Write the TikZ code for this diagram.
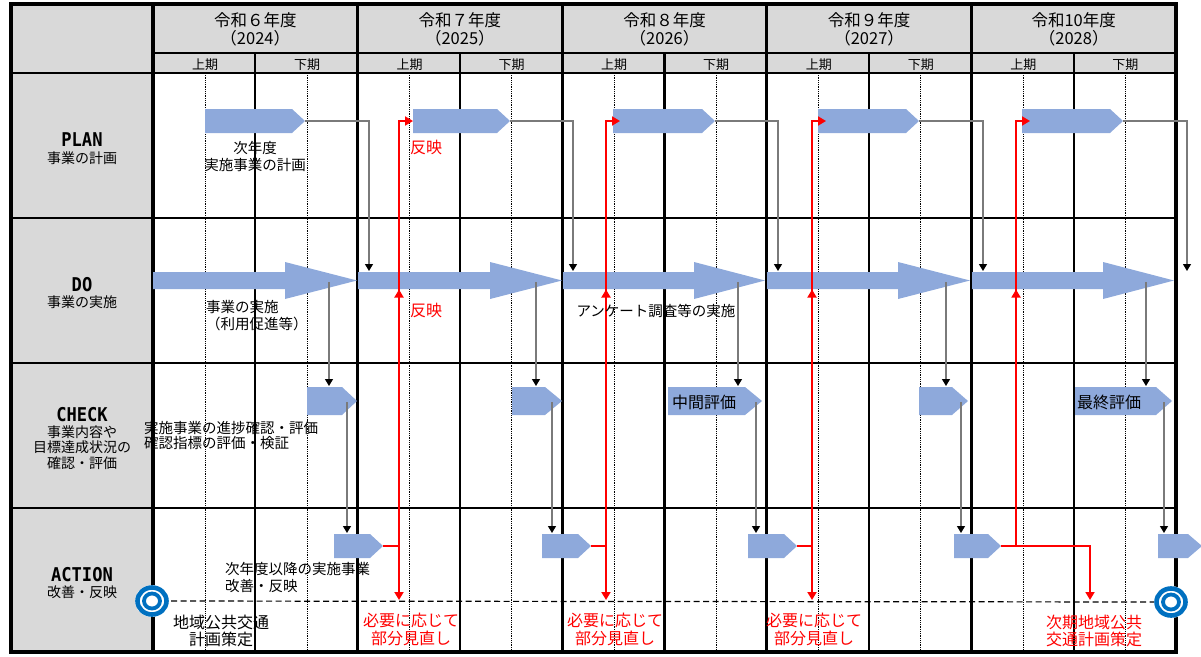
\documentclass[tikz,border=0pt]{standalone}
\usepackage{fontspec}
\setmainfont{Noto Sans CJK JP}
\newfontfamily\labfont{DejaVu Sans Mono}[FakeStretch=0.9]
\usetikzlibrary{arrows.meta}
\definecolor{hdrgray}{HTML}{D9D9D9}
\definecolor{shapeblue}{HTML}{8EA9DB}
\definecolor{ringblue}{HTML}{0070C0}
\definecolor{redline}{HTML}{FF0000}
\definecolor{connc}{HTML}{7A7A7A}
\newcommand\fsz[2]{\fontsize{#1pt}{#2pt}\selectfont}
\begin{document}
\begin{tikzpicture}[x=1pt,y=-1pt,
  pdca/.style={inner sep=0pt, font=\labfont\bfseries\fsz{19}{19}},
  sublbl/.style={inner sep=0pt, align=center, font=\fsz{14}{15.5}},
  yearlbl/.style={inner sep=0pt, align=center, font=\fsz{16.5}{18.5}},
  halflbl/.style={inner sep=0pt, font=\fsz{13}{13}},
  bodytxt/.style={inner sep=0pt, font=\fsz{14.5}{17}},
  redtxt/.style={inner sep=0pt, align=center, text=redline, font=\fsz{16}{18}},
  conn/.style={draw=connc, line width=1.2pt, -{Triangle[length=7pt,width=8pt,color=black,fill=black]}},
  redarr/.style={draw=redline, line width=1.8pt, -{Triangle[length=8pt,width=9pt,color=redline,fill=redline]}},
  redln/.style={draw=redline, line width=1.8pt},
  blueshape/.style={fill=shapeblue},
  frameln/.style={line width=3.3pt},
  halfln/.style={line width=2.3pt},
  rowln/.style={line width=1.2pt},
  quarterln/.style={line width=0.8pt, densely dotted},
  ring/.style={draw=ringblue}
]
\useasboundingbox (0,0) rectangle (1201,656);

% ---------- backgrounds ----------
\fill[hdrgray] (11,4) rectangle (153,652);
\fill[hdrgray] (153,4) rectangle (1176,73);

% ---------- quarter dotted lines ----------
\foreach \S in {153,357.6,562.2,766.8,971.4}{
  \draw[quarterln] (\S+52,73) -- (\S+52,652);
  \draw[quarterln] (\S+154,73) -- (\S+154,652);
  \draw[halfln] (\S+102.3,53) -- (\S+102.3,652);
}

% ---------- horizontal lines ----------
\draw[rowln] (153,53) -- (1176,53);
\draw[line width=1.5pt] (11,73) -- (1176,73);
\foreach \y in {218,363,508}{ \draw[rowln] (11,\y) -- (1176,\y); }

% ---------- year lines and frame ----------
\foreach \X in {153,357.6,562.2,766.8,971.4,1176}{ \draw[frameln] (\X,4) -- (\X,652); }
\draw[frameln] (11,4) -- (11,652);
\draw[frameln] (9.35,4) -- (1177.65,4);
\draw[frameln] (9.35,652) -- (1177.65,652);

% ---------- header texts ----------
\foreach \S/\yr/\ye [count=\i] in {153/令和６年度/2024,357.6/令和７年度/2025,562.2/令和８年度/2026,766.8/令和９年度/2027,971.4/令和10年度/2028}{
  \node[yearlbl] (yr\i) at (\S+102.3,29.5) {\yr\\（\ye）};
  \node[halflbl] (ha\i) at (\S+52,64.5) {上期};
  \node[halflbl] (hb\i) at (\S+154,64.5) {下期};
}

% ---------- left labels ----------
\node[pdca] (plan) at (82,140) {PLAN};
\node[sublbl] (plansub) at (82,158) {事業の計画};
\node[pdca] (do) at (82,285) {DO};
\node[sublbl] (dosub) at (82,302) {事業の実施};
\node[pdca] (check) at (82,415) {CHECK};
\node[sublbl] (checksub) at (82,447.5) {事業内容や\\目標達成状況の\\確認・評価};
\node[pdca] (action) at (82,575) {ACTION};
\node[sublbl] (actionsub) at (82,592) {改善・反映};

% ---------- PLAN pentagons ----------
\foreach \a/\b/\c [count=\i] in {205/292/305,413/497/510,613/702/715,818/906/919,1022/1110/1123}{
  \fill[blueshape] (\a,109) -- (\b,109) -- (\c,121) -- (\b,133) -- (\a,133) -- cycle;
  \coordinate (pt\i) at (\c,121);
}
% ---------- DO block arrows ----------
\foreach \a/\b/\c [count=\i] in {153/285/357,358/490/562,563/694/765,767/898/970,972/1103/1174}{
  \fill[blueshape] (\a,272) -- (\b,272) -- (\b,262) -- (\c,280.5) -- (\b,299) -- (\b,289) -- (\a,289) -- cycle;
}
% ---------- CHECK pentagons ----------
\foreach \a/\b/\c [count=\i] in {307/342/357,512/545/562,668/745/762,919/952/968,1075/1156/1172}{
  \fill[blueshape] (\a,387) -- (\b,387) -- (\c,401) -- (\b,415) -- (\a,415) -- cycle;
}
% ---------- ACTION pentagons ----------
\foreach \a/\b/\c [count=\i] in {334/370/383,542/578/591,748/784/797,954/988/1001,1158/1188/1202}{
  \fill[blueshape] (\a,534) -- (\b,534) -- (\c,546) -- (\b,558) -- (\a,558) -- cycle;
  \coordinate (at\i) at (\c,546);
}

% ---------- texts inside shapes ----------
\node[inner sep=0pt, anchor=west, font=\fsz{16}{16}] (mid) at (672,402) {中間評価};
\node[inner sep=0pt, anchor=west, font=\fsz{16}{16}] (fin) at (1077,402) {最終評価};

% ---------- grey connectors ----------
\foreach \x [count=\i] in {369,573,778,983,1187}{
  \coordinate (dt\i) at (\x,271);
  \draw[conn] (pt\i) -| (dt\i);
}
\foreach \x [count=\i] in {329,536,738,946,1146}{
  \coordinate (ds\i) at (\x,282);
  \coordinate (ct\i) at (\x,386);
  \draw[conn] (ds\i) -- (ct\i);
}
\foreach \x [count=\i] in {347,552,756,961,1164}{
  \coordinate (cs\i) at (\x,402);
  \coordinate (acttop\i) at (\x,533);
  \draw[conn] (cs\i) -- (acttop\i);
}

% ---------- red feedback lines ----------
\foreach \x/\p [count=\i] in {399/413,606/620,812/826,1016/1030}{
  \coordinate (rj\i) at (\x,546);
  \coordinate (rt\i) at (\x,121);
  \coordinate (pin\i) at (\p,121);
  \coordinate (dob\i) at (\x,289.5);
  \coordinate (dbelow\i) at (\x,320);
  \draw[redln] (at\i) -- (rj\i);
  \draw[redarr] (rj\i) -- (rt\i) -- (pin\i);
  \draw[redarr] (dbelow\i) -- (dob\i);
}
\coordinate (dl1) at (399,600);
\coordinate (dl2) at (606,600);
\coordinate (dl3) at (812,600);
\draw[redarr] (rj1) -- (dl1);
\draw[redarr] (rj2) -- (dl2);
\draw[redarr] (rj3) -- (dl3);
\coordinate (nx) at (1090,600);
\draw[redarr] (rj4) -| (nx);

% ---------- dashed baseline and rings ----------
\coordinate (ringL) at (152,601);
\coordinate (ringR) at (1171,602);
\draw[line width=1.2pt, dash pattern=on 6pt off 3.5pt] (ringL) -- (ringR);
\foreach \c in {ringL,ringR}{
  \fill[white] (\c) ellipse [x radius=17pt, y radius=16pt];
  \draw[ring, line width=4.6pt] (\c) ellipse [x radius=14.5pt, y radius=13.5pt];
  \draw[ring, line width=3.8pt] (\c) ellipse [x radius=8pt, y radius=7.5pt];
}

% ---------- body texts ----------
\node[bodytxt, align=center] (t1) at (255,156) {次年度\\実施事業の計画};
\node[bodytxt, align=left, anchor=west] (t2) at (206,316) {事業の実施\\（利用促進等）};
\node[bodytxt] (t3) at (656,311) {アンケート調査等の実施};
\node[bodytxt, align=left, anchor=west, font=\fsz{14.5}{15.5}] (t4) at (144,435.5) {実施事業の進捗確認・評価\\確認指標の評価・検証};
\node[bodytxt, align=left, anchor=west] (t5) at (225,577.5) {次年度以降の実施事業\\改善・反映};
\node[inner sep=0pt, align=center, font=\fsz{16}{17}] (t6) at (221,630.5) {地域公共交通\\計画策定};
\node[redtxt, anchor=west] (r1) at (410,147) {反映};
\node[redtxt, anchor=west] (r2) at (410,310) {反映};
\node[redtxt] (n1) at (411,629) {必要に応じて\\部分見直し};
\node[redtxt] (n2) at (615,629) {必要に応じて\\部分見直し};
\node[redtxt] (n3) at (814,629) {必要に応じて\\部分見直し};
\node[redtxt, font=\fsz{16}{17}] (n4) at (1094,630.5) {次期地域公共\\交通計画策定};
\end{tikzpicture}
\end{document}
